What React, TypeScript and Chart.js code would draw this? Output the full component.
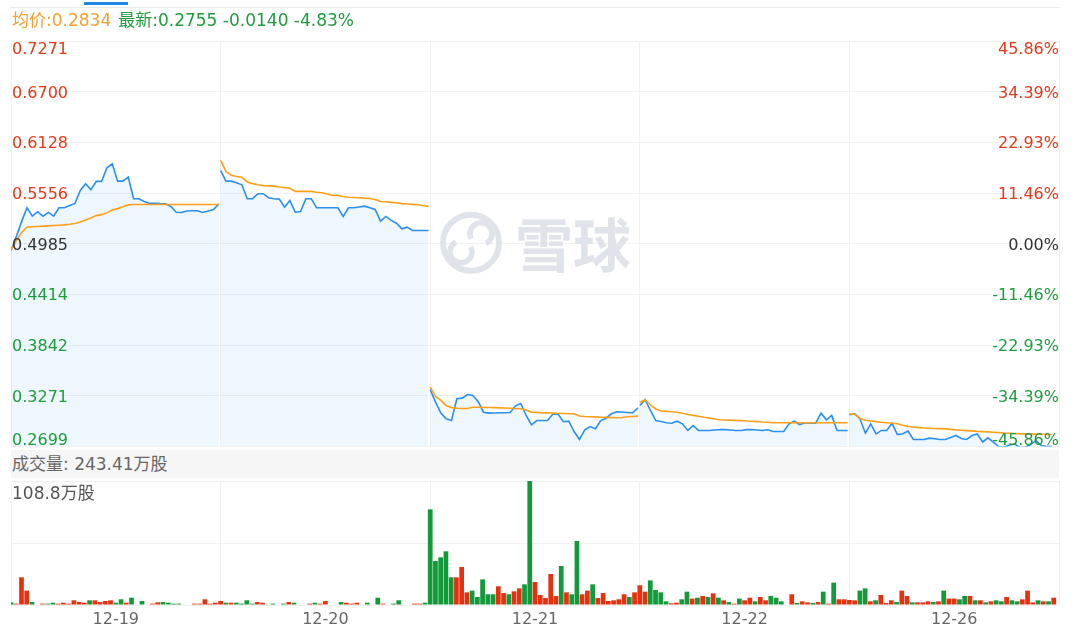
import React, { useEffect, useRef } from 'react';
import { Chart, registerables } from 'chart.js';

Chart.register(...registerables);

// ---------- data ----------
const DAY_LABELS = ['12-19', '12-20', '12-21', '12-22', '12-26'];
const PREV_CLOSE = 0.4985;
const PRICE_TICKS = [0.7271, 0.67, 0.6128, 0.5556, 0.4985, 0.4414, 0.3842, 0.3271, 0.2699];
const PCT_TICKS = ['45.86%', '34.39%', '22.93%', '11.46%', '0.00%', '-11.46%', '-22.93%', '-34.39%', '-45.86%'];
const VOL_TICKS = [0, 54.4, 108.8];
const VOL_MAX_LABEL = '108.8万股';
const VOL_TOTAL_LABEL = '成交量: 243.41万股';
const AVG_TEXT = '均价:0.2834';
const LAST_TEXT = '最新:0.2755 -0.0140 -4.83%';

const PRICE_1219 = [0.4909, 0.5067, 0.5237, 0.5391, 0.5296, 0.5346, 0.5296, 0.5338, 0.5296, 0.5391, 0.5391, 0.5417, 0.544, 0.5586, 0.5662, 0.5594, 0.5688, 0.5688, 0.5842, 0.5887, 0.5691, 0.5691, 0.5736, 0.5493, 0.5493, 0.5462, 0.544, 0.544, 0.5437, 0.5436, 0.5406, 0.5341, 0.5338, 0.5355, 0.5357, 0.5357, 0.5338, 0.5355, 0.5372, 0.5436];
const AVG_1219 = [0.4909, 0.5022, 0.5113, 0.5172, 0.5177, 0.518, 0.5184, 0.5187, 0.519, 0.5194, 0.5198, 0.5205, 0.5214, 0.5231, 0.5252, 0.5276, 0.5302, 0.5313, 0.5333, 0.5365, 0.5381, 0.5401, 0.5423, 0.5428, 0.5428, 0.5428, 0.5428, 0.5428, 0.5428, 0.5428, 0.5428, 0.5428, 0.5428, 0.5428, 0.5428, 0.5428, 0.5428, 0.5428, 0.5428, 0.5428];
const PRICE_1220 = [0.5812, 0.5691, 0.5691, 0.5673, 0.565, 0.5493, 0.5493, 0.5549, 0.5549, 0.5504, 0.5493, 0.5488, 0.5398, 0.5473, 0.5341, 0.5349, 0.5493, 0.5493, 0.5391, 0.5391, 0.5391, 0.5391, 0.5391, 0.5293, 0.5391, 0.5391, 0.54, 0.5409, 0.5391, 0.5372, 0.524, 0.5293, 0.5248, 0.5217, 0.5154, 0.5172, 0.5135, 0.5135, 0.5135, 0.5135];
const AVG_1220 = [0.5924, 0.5801, 0.5756, 0.5744, 0.5736, 0.5682, 0.5663, 0.565, 0.564, 0.5638, 0.5635, 0.5624, 0.5618, 0.561, 0.5576, 0.5575, 0.5575, 0.5575, 0.5566, 0.556, 0.5547, 0.553, 0.553, 0.5518, 0.5509, 0.5507, 0.5504, 0.5499, 0.5496, 0.5485, 0.5462, 0.5458, 0.5452, 0.5447, 0.5437, 0.5433, 0.5429, 0.5425, 0.5417, 0.5406];
const PRICE_1221 = [0.3342, 0.3199, 0.3075, 0.3011, 0.2992, 0.3237, 0.3244, 0.3285, 0.3274, 0.3207, 0.3086, 0.3075, 0.3077, 0.3079, 0.308, 0.3083, 0.3158, 0.3184, 0.3049, 0.2944, 0.2992, 0.2992, 0.2992, 0.3063, 0.3063, 0.2978, 0.2984, 0.2868, 0.2778, 0.2887, 0.2924, 0.2899, 0.2992, 0.3018, 0.3068, 0.309, 0.3088, 0.3083, 0.3079, 0.3136];
const AVG_1221 = [0.3368, 0.3263, 0.3218, 0.3161, 0.3137, 0.313, 0.3128, 0.3128, 0.3141, 0.3141, 0.3139, 0.3138, 0.3137, 0.3135, 0.3133, 0.313, 0.3128, 0.3125, 0.3111, 0.3087, 0.3084, 0.308, 0.3078, 0.3076, 0.3074, 0.3071, 0.3069, 0.3068, 0.3043, 0.3038, 0.3035, 0.3033, 0.3029, 0.3027, 0.3025, 0.3023, 0.3026, 0.3034, 0.3037, 0.3041];
const PRICE_1222 = [0.3161, 0.3226, 0.3105, 0.2992, 0.2981, 0.2966, 0.2962, 0.2984, 0.2955, 0.288, 0.2936, 0.288, 0.288, 0.288, 0.2885, 0.2891, 0.2889, 0.2885, 0.288, 0.288, 0.2889, 0.2891, 0.2885, 0.288, 0.2887, 0.2868, 0.2868, 0.2868, 0.2955, 0.2984, 0.2947, 0.2966, 0.2964, 0.2962, 0.3075, 0.3, 0.3049, 0.288, 0.288, 0.288];
const AVG_1222 = [0.3199, 0.3223, 0.3167, 0.3122, 0.3099, 0.3095, 0.3091, 0.3086, 0.3073, 0.306, 0.305, 0.3041, 0.3029, 0.302, 0.301, 0.3001, 0.2998, 0.2996, 0.2993, 0.2991, 0.2987, 0.2983, 0.298, 0.2975, 0.2972, 0.2967, 0.2966, 0.2966, 0.2966, 0.2966, 0.2966, 0.2966, 0.2966, 0.2966, 0.2966, 0.2966, 0.2966, 0.2966, 0.2966, 0.2966];
const PRICE_1226 = [0.3057, 0.3068, 0.3011, 0.2849, 0.2955, 0.2842, 0.288, 0.288, 0.2962, 0.2834, 0.2842, 0.2872, 0.2778, 0.2778, 0.2778, 0.2793, 0.2786, 0.2778, 0.2778, 0.2801, 0.2823, 0.2789, 0.2778, 0.2823, 0.284, 0.275, 0.2797, 0.2748, 0.2699, 0.2691, 0.2716, 0.2727, 0.2688, 0.2693, 0.2722, 0.2767, 0.271, 0.2699, 0.2699];
const AVG_1226 = [0.3068, 0.306, 0.3015, 0.2995, 0.2986, 0.2979, 0.2972, 0.2966, 0.2961, 0.2955, 0.2938, 0.2925, 0.2918, 0.2912, 0.2907, 0.2904, 0.2902, 0.29, 0.2898, 0.2892, 0.2886, 0.2882, 0.2878, 0.2875, 0.287, 0.2867, 0.2864, 0.286, 0.2856, 0.2851, 0.2848, 0.2846, 0.2843, 0.2841, 0.284, 0.2838, 0.2837, 0.2835, 0.2834];

// volume in 万股; direction: 1 = up (red), -1 = down (green), 0 = no trade
const VOL_1219 = [2.3, 1.2, 24.3, 12.6, 2.6, 0, 1.2, 1.2, 2.0, 1.2, 2.0, 1.2, 4.1, 2.6, 2.0, 4.1, 4.1, 2.6, 3.5, 4.1, 2.0, 5.0, 2.0, 6.4, 0, 3.5, 0, 1.2, 2.3, 2.6, 2.0, 1.2, 1.2, 0, 0, 1.2, 1.2, 5.0, 1.2, 2.0];
const DIR_1219 = [-1, 1, 1, 1, -1, 0, 1, -1, -1, 1, 1, 1, 1, 1, 1, -1, 1, 1, 1, 1, -1, -1, 1, -1, 0, -1, 0, 1, 1, -1, -1, -1, -1, 0, 0, 1, 1, 1, 1, 1];
const VOL_1220 = [3.5, 2.0, 2.0, 2.0, 1.2, 4.1, 1.2, 2.6, 2.0, 0, 1.2, 0, 1.2, 2.6, 2.0, 0, 0, 1.2, 2.0, 1.2, 3.5, 0, 0, 2.6, 2.0, 1.2, 2.0, 0, 2.0, 0, 6.4, 1.2, 0, 1.2, 4.1, 0, 0, 1.2, 1.2, 2.0];
const DIR_1220 = [1, -1, 1, -1, -1, -1, -1, 1, 1, 0, -1, 0, -1, 1, -1, 0, 0, 1, -1, 1, 1, 0, 0, -1, 1, 1, 1, 0, -1, 0, -1, 1, 0, -1, -1, 0, 0, 1, 1, -1];
const VOL_1221 = [83.9, 38.6, 41.8, 47.1, 24.3, 24.3, 33.3, 11.1, 12.6, 7.0, 22.5, 9.4, 9.4, 16.4, 10.5, 9.4, 12.0, 14.6, 18.1, 108.8, 20.2, 8.8, 6.1, 27.2, 7.9, 34.2, 11.1, 9.4, 56.2, 9.4, 12.6, 18.1, 6.1, 10.5, 3.5, 4.1, 5.0, 9.4, 7.0, 11.1];
const DIR_1221 = [-1, -1, -1, -1, -1, 1, 1, 1, -1, -1, -1, -1, -1, 1, 1, -1, 1, 1, -1, -1, 1, 1, 1, 1, 1, -1, 1, -1, -1, 1, 1, -1, 1, 1, 1, 1, 1, 1, -1, 1];
const VOL_1222 = [17.3, 11.7, 21.6, 13.2, 11.1, 3.2, 1.5, 2.0, 5.0, 11.7, 5.6, 6.4, 7.9, 7.0, 10.2, 6.4, 4.1, 2.6, 1.2, 5.6, 4.1, 6.4, 3.2, 7.0, 4.1, 7.9, 6.4, 3.2, 0, 9.4, 1.8, 3.2, 2.3, 1.8, 2.6, 11.7, 1.2, 19.6, 5.0, 5.0];
const DIR_1222 = [1, 1, -1, -1, -1, -1, 1, 1, -1, -1, 1, -1, 1, -1, 1, -1, 1, -1, 1, -1, 1, 1, -1, 1, 1, -1, -1, -1, 0, 1, -1, 1, 1, -1, 1, -1, 1, -1, 1, 1];
const VOL_1226 = [4.4, 4.1, 12.6, 14.6, 3.2, 4.1, 8.8, 1.8, 4.1, 2.6, 12.6, 7.9, 2.3, 2.3, 2.3, 3.2, 2.6, 3.2, 12.6, 5.6, 5.6, 5.0, 7.9, 7.9, 4.1, 4.1, 2.3, 3.2, 4.1, 3.2, 7.0, 4.1, 3.2, 5.0, 12.6, 2.3, 4.1, 3.2, 3.2, 6.4];
const DIR_1226 = [1, 1, -1, -1, 1, -1, 1, 1, 1, -1, 1, 1, -1, 1, 1, 1, -1, 1, -1, 1, 1, -1, -1, 1, -1, 1, -1, 1, -1, -1, 1, -1, -1, 1, 1, 1, -1, 1, -1, 1];

const PRICE_DAYS = [PRICE_1219, PRICE_1220, PRICE_1221, PRICE_1222, PRICE_1226];
const AVG_DAYS = [AVG_1219, AVG_1220, AVG_1221, AVG_1222, AVG_1226];
const VOL_DAYS = [VOL_1219, VOL_1220, VOL_1221, VOL_1222, VOL_1226];
const DIR_DAYS = [DIR_1219, DIR_1220, DIR_1221, DIR_1222, DIR_1226];

// ---------- style ----------
const SLOTS_PER_DAY = 40;
const PRICE_STEP = 39.67 / 39; // x units between 10-minute price points
const RED = '#e3391b';
const GREEN = '#1e9c3e';
const DARK = '#333333';
const ORANGE = '#f5a030';
const BLUE = '#2a8ff0';
const AVG_COLOR = '#ff9f18';
const BAR_RED = '#e5310f';
const BAR_GREEN = '#11993a';
const GRID = '#f1f1f1';
const NUM_FONT = '"DejaVu Sans", "Noto Sans CJK SC", sans-serif';
const CJK_FONT = '"DejaVu Sans", "Noto Sans CJK SC", sans-serif';

function toLinePoints(days: number[][]) {
  const out: { x: number; y: number | null }[] = [];
  days.forEach((vals, d) => {
    if (d > 0) out.push({ x: d * SLOTS_PER_DAY, y: null });
    vals.forEach((v, i) => out.push({ x: d * SLOTS_PER_DAY + i * PRICE_STEP, y: v }));
  });
  return out;
}

export default function App() {
  const priceRef = useRef<HTMLCanvasElement>(null);
  const volRef = useRef<HTMLCanvasElement>(null);

  useEffect(() => {
    document.body.style.margin = '0';
    const pc = priceRef.current!;
    const vc = volRef.current!;

    const priceLabels = {
      id: 'priceLabels',
      beforeDatasetsDraw(chart: any) {
        const { ctx, chartArea: a } = chart;
        const cx = (a.left + a.right) / 2;
        const cy = (a.top + a.bottom) / 2;
        ctx.save();
        ctx.strokeStyle = '#e0e3e9';
        ctx.fillStyle = '#e0e3e9';
        ctx.lineWidth = 6;
        ctx.beginPath();
        ctx.arc(cx - 64, cy - 1, 28, 0, Math.PI * 2);
        ctx.stroke();
        ctx.lineWidth = 5.5;
        ctx.beginPath();
        ctx.arc(cx - 74, cy + 8, 11, -Math.PI * 0.15, Math.PI * 1.35);
        ctx.stroke();
        ctx.beginPath();
        ctx.arc(cx - 54, cy - 10, 11, Math.PI * 0.85, Math.PI * 2.35);
        ctx.stroke();
        ctx.font = 'bold 58px "Noto Sans CJK SC", sans-serif';
        ctx.textAlign = 'left';
        ctx.textBaseline = 'middle';
        ctx.fillText('雪球', cx - 20, cy + 1);
        ctx.restore();
      },
      afterDraw(chart: any) {
        const { ctx, chartArea: a, scales } = chart;
        const ys = scales.y;
        ctx.save();
        ctx.font = '16px ' + NUM_FONT;
        ctx.textBaseline = 'alphabetic';
        const last = PRICE_TICKS.length - 1;
        PRICE_TICKS.forEach((v, idx) => {
          const py = ys.getPixelForValue(v);
          let base = py + 6;
          if (idx === 0) base = a.top + 13;
          if (idx === last) base = a.bottom - 2;
          const color = Math.abs(v - PREV_CLOSE) < 1e-6 ? DARK : v > PREV_CLOSE ? RED : GREEN;
          ctx.fillStyle = color;
          ctx.textAlign = 'left';
          ctx.fillText(v.toFixed(4), a.left + 1, base);
          ctx.textAlign = 'right';
          ctx.fillText(PCT_TICKS[idx], a.right, base);
        });
        ctx.restore();
      },
    };

    const priceChart = new Chart(pc, {
      type: 'line',
      data: {
        datasets: [
          {
            data: toLinePoints(AVG_DAYS) as any,
            borderColor: AVG_COLOR,
            borderWidth: 1.6,
            pointRadius: 0,
            fill: false,
            tension: 0,
            spanGaps: false,
          },
          {
            data: toLinePoints(PRICE_DAYS) as any,
            borderColor: BLUE,
            borderWidth: 1.6,
            pointRadius: 0,
            fill: 'start',
            backgroundColor: 'rgba(42,143,240,0.08)',
            tension: 0,
            spanGaps: false,
          },
        ],
      },
      options: {
        responsive: false,
        animation: false,
        events: [],
        layout: { padding: { left: 11, right: 21, top: 41, bottom: 3.5 } },
        plugins: { legend: { display: false }, tooltip: { enabled: false } },
        scales: {
          x: {
            type: 'linear',
            min: 0,
            max: SLOTS_PER_DAY * DAY_LABELS.length,
            ticks: { display: false, stepSize: SLOTS_PER_DAY },
            grid: { color: GRID, drawTicks: false, lineWidth: 1 },
            border: { display: false },
          },
          y: {
            type: 'linear',
            min: PRICE_TICKS[PRICE_TICKS.length - 1],
            max: PRICE_TICKS[0],
            afterBuildTicks: (s: any) => {
              s.ticks = PRICE_TICKS.map((v) => ({ value: v }));
            },
            ticks: { display: false },
            grid: { color: GRID, drawTicks: false },
            border: { display: false },
          },
        },
      },
      plugins: [priceLabels],
    });

    const volPoints = VOL_DAYS.flatMap((vals, d) =>
      vals.map((v, i) => ({ x: d * SLOTS_PER_DAY + i, y: v > 0 ? v : null }))
    );
    const volColors = DIR_DAYS.flatMap((dirs) => dirs.map((s) => (s > 0 ? BAR_RED : BAR_GREEN)));

    const volLabels = {
      id: 'volLabels',
      afterDraw(chart: any) {
        const { ctx, chartArea: a, scales } = chart;
        ctx.save();
        ctx.font = '17px ' + CJK_FONT;
        ctx.fillStyle = '#555';
        ctx.textAlign = 'left';
        ctx.textBaseline = 'top';
        ctx.fillText(VOL_MAX_LABEL, a.left + 1, a.top + 5);
        ctx.font = '16px ' + CJK_FONT;
        ctx.fillStyle = '#666';
        ctx.textAlign = 'center';
        ctx.textBaseline = 'middle';
        DAY_LABELS.forEach((lab, d) => {
          const px = scales.x.getPixelForValue(d * SLOTS_PER_DAY + SLOTS_PER_DAY / 2);
          ctx.fillText(lab, px, a.bottom + 15);
        });
        ctx.restore();
      },
    };

    const volChart = new Chart(vc, {
      type: 'bar',
      data: {
        datasets: [
          {
            data: volPoints as any,
            backgroundColor: volColors,
            borderWidth: 0,
            barPercentage: 0.9,
            categoryPercentage: 1,
          },
        ],
      },
      options: {
        responsive: false,
        animation: false,
        events: [],
        layout: { padding: { left: 11, right: 21, top: 3, bottom: 30 } },
        plugins: { legend: { display: false }, tooltip: { enabled: false } },
        scales: {
          x: {
            type: 'linear',
            offset: false,
            min: 0,
            max: SLOTS_PER_DAY * DAY_LABELS.length,
            ticks: { display: false, stepSize: SLOTS_PER_DAY },
            grid: { color: GRID, drawTicks: false, offset: false },
            border: { display: false },
          },
          y: {
            type: 'linear',
            min: 0,
            max: VOL_TICKS[VOL_TICKS.length - 1],
            afterBuildTicks: (s: any) => {
              s.ticks = VOL_TICKS.map((v) => ({ value: v }));
            },
            ticks: { display: false },
            grid: { color: GRID, drawTicks: false },
            border: { display: false },
          },
        },
      },
      plugins: [volLabels],
    });

    return () => {
      priceChart.destroy();
      volChart.destroy();
    };
  }, []);

  return (
    <div
      style={{
        position: 'relative',
        width: 1080,
        height: 635,
        background: '#fff',
        overflow: 'hidden',
        fontFamily: CJK_FONT,
      }}
    >
      <canvas ref={priceRef} width={1080} height={450} style={{ position: 'absolute', left: 0, top: 0, width: 1080, height: 450 }} />
      <div style={{ position: 'absolute', left: 10, top: 7, width: 1050, height: 1, background: '#e9e9e9' }} />
      <div style={{ position: 'absolute', left: 84, top: 2, width: 44, height: 3, background: '#1f86e6' }} />
      <div
        style={{
          position: 'absolute',
          left: 12,
          top: 9,
          fontSize: 17,
          lineHeight: '22px',
          whiteSpace: 'nowrap',
        }}
      >
        <span style={{ color: ORANGE }}>{AVG_TEXT}</span>
        <span style={{ color: GREEN, marginLeft: 7 }}>{LAST_TEXT}</span>
      </div>
      <div
        style={{
          position: 'absolute',
          left: 11,
          top: 450,
          width: 1048,
          height: 28,
          background: '#f6f6f6',
          color: '#666',
          fontSize: 17,
          lineHeight: '28px',
          paddingLeft: 1,
          whiteSpace: 'nowrap',
          boxSizing: 'border-box',
        }}
      >
        {VOL_TOTAL_LABEL}
      </div>
      <canvas ref={volRef} width={1080} height={157} style={{ position: 'absolute', left: 0, top: 478, width: 1080, height: 157 }} />
    </div>
  );
}
